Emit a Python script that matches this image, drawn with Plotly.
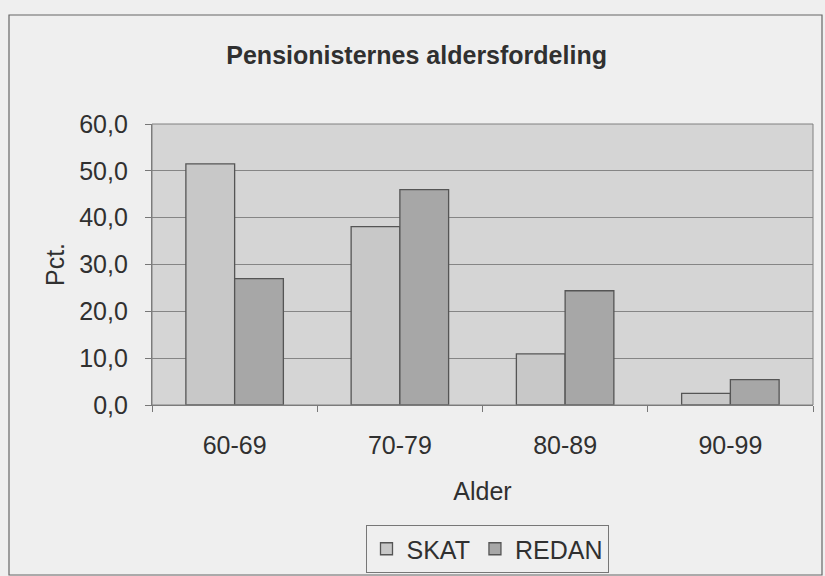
import plotly.graph_objects as go

categories = ["60-69", "70-79", "80-89", "90-99"]
skat = [51.5, 38.1, 10.9, 2.5]
redan = [27.0, 46.0, 24.4, 5.4]
y_ticks = [0, 10, 20, 30, 40, 50, 60]
y_tick_labels = ["0,0", "10,0", "20,0", "30,0", "40,0", "50,0", "60,0"]

font = "Liberation Sans, Arial, sans-serif"
W, H = 825, 576
L, R, T, B = 152, 12, 124, 171
pw, ph = W - L - R, H - T - B

fig = go.Figure()
fig.add_trace(go.Bar(x=categories, y=skat, name="SKAT",
                     marker=dict(color="#c8c8c8", line=dict(color="#555555", width=1.3))))
fig.add_trace(go.Bar(x=categories, y=redan, name="REDAN",
                     marker=dict(color="#a7a7a7", line=dict(color="#555555", width=1.3))))

fig.update_layout(
    width=W, height=H,
    margin=dict(l=L, r=R, t=T, b=B),
    paper_bgcolor="#efefef",
    plot_bgcolor="#d5d5d5",
    barmode="group", bargap=0.41, bargroupgap=0,
    title=dict(text="<b>Pensionisternes aldersfordeling</b>", x=0.505, xanchor="center",
               y=1 - 55 / H, yanchor="middle", font=dict(family=font, size=25, color="#303030")),
    font=dict(family=font, color="#303030"),
    showlegend=True,
    legend=dict(orientation="h", xref="container", yref="container",
                x=487 / W, xanchor="center", y=1 - 573 / H, yanchor="bottom",
                bgcolor="rgba(0,0,0,0)", bordercolor="#777777", borderwidth=1,
                font=dict(family=font, size=25, color="#303030"),
                itemwidth=30, traceorder="normal"),
    xaxis=dict(title=dict(text="Alder", font=dict(size=25), standoff=24),
               tickfont=dict(size=25), ticks="outside", tickson="boundaries",
               ticklen=6, tickcolor="#777777", showline=True, linecolor="#777777",
               linewidth=1.2, ticklabelstandoff=18),
    yaxis=dict(title=dict(text="Pct.", font=dict(size=25), standoff=7),
               range=[0, 60], tickvals=y_ticks, ticktext=y_tick_labels,
               tickfont=dict(size=25), ticks="outside", ticklen=6, tickcolor="#777777",
               showline=True, linecolor="#777777", linewidth=1.2, ticklabelstandoff=12,
               showgrid=True, gridcolor="#858585", gridwidth=1, zeroline=False),
)
fig.add_shape(type="rect", xref="paper", yref="paper", x0=0, x1=1, y0=0, y1=1,
              line=dict(color="#808080", width=1), layer="above")
fig.add_shape(type="rect", xref="paper", yref="paper",
              x0=(9 - L) / pw, x1=(822 - L) / pw, y0=-(575 - (H - B)) / ph, y1=1 + (T - 15) / ph,
              line=dict(color="#666666", width=1.2), layer="below")

fig.write_html("out.html", config={"displayModeBar": False},
               post_script="document.body.style.margin='0px';")
